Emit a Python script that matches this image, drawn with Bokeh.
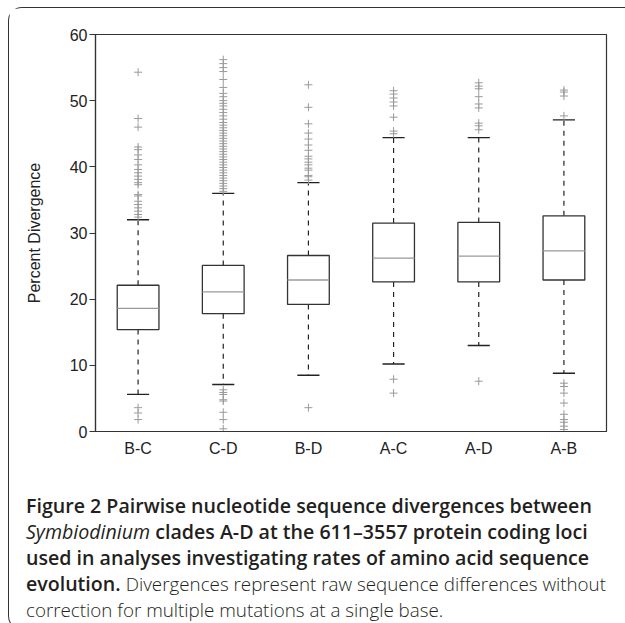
from bokeh.plotting import figure
from bokeh.models import FixedTicker, Div
from bokeh.layouts import column
from bokeh.embed import file_html
from bokeh.resources import INLINE

categories = ["B-C", "C-D", "B-D", "A-C", "A-D", "A-B"]
q1 = [15.4, 17.8, 19.2, 22.6, 22.6, 22.9]
median = [18.6, 21.1, 22.9, 26.2, 26.5, 27.3]
q3 = [22.1, 25.1, 26.6, 31.5, 31.6, 32.6]
whisker_low = [5.6, 7.1, 8.5, 10.2, 13.0, 8.8]
whisker_high = [32.0, 36.0, 37.6, 44.4, 44.4, 47.1]

outliers_bc = [54.3, 47.3, 46.0, 43.0, 42.6, 41.8, 41.1, 40.3, 39.6, 39.1, 38.6, 38.1,
               37.6, 37.3, 35.8, 35.6, 34.8, 34.3, 33.8, 33.3, 32.8, 32.4,
               3.6, 2.8, 1.8]
outliers_cd = [56.2, 55.6, 55.0, 54.4, 53.2, 52.0, 51.1, 50.6, 50.0, 49.6, 49.2, 48.7,
               48.2, 47.7, 47.2, 46.7, 46.3, 45.9, 45.5, 45.1, 44.7, 44.3, 43.9, 43.5,
               43.1, 42.7, 42.3, 41.9, 41.5, 41.1, 40.7, 40.3, 39.9, 39.5, 39.1, 38.7,
               38.3, 37.9, 37.5, 37.1, 36.7, 36.3,
               6.3, 5.9, 5.6, 4.8, 4.6, 2.9, 1.8, 0.4]
outliers_bd = [52.4, 49.0, 46.5, 45.1, 44.2, 43.3, 42.5, 41.6, 41.2, 40.7, 40.3, 39.8,
               39.5, 38.7, 38.5, 38.0, 3.6]
outliers_ac = [51.5, 51.0, 50.4, 49.8, 49.2, 47.5, 45.4, 45.0, 7.9, 5.8]
outliers_ad = [52.7, 52.2, 51.8, 50.6, 49.5, 48.9, 46.6, 46.2, 45.6, 7.6]
outliers_ab = [51.6, 51.3, 50.7, 47.7, 7.3, 6.8, 5.8, 4.3, 2.6, 1.8, 1.4, 0.8, 0.3]
outliers = [outliers_bc, outliers_cd, outliers_bd, outliers_ac, outliers_ad, outliers_ab]

y_ticks = [0, 10, 20, 30, 40, 50, 60]

p = figure(x_range=categories, y_range=(0, 60), width=615, height=480,
           output_backend="svg", toolbar_location=None,
           min_border_left=86, min_border_right=18, min_border_top=26, min_border_bottom=57)
p.grid.visible = False
p.outline_line_color = "#333333"
p.outline_line_width = 1.2
p.background_fill_color = "white"
p.border_fill_color = "white"

FONT = "Liberation Sans"
p.yaxis.ticker = FixedTicker(ticks=y_ticks)
p.yaxis.axis_label = "Percent Divergence"
p.yaxis.axis_label_text_font = FONT
p.yaxis.axis_label_text_font_style = "normal"
p.yaxis.axis_label_text_font_size = "16px"
p.yaxis.axis_label_text_color = "#222222"
p.yaxis.axis_label_standoff = 24
p.yaxis.major_label_text_font = FONT
p.yaxis.major_label_text_font_size = "16px"
p.yaxis.major_label_text_color = "#222222"
p.yaxis.major_tick_out = 6
p.yaxis.major_tick_in = 0
p.yaxis.minor_tick_line_color = None
p.yaxis.major_label_standoff = 2
p.axis.axis_line_color = "#333333"
p.axis.axis_line_width = 1.2
p.axis.major_tick_line_color = "#333333"

p.xaxis.major_tick_out = 0
p.xaxis.major_tick_in = 0
p.xaxis.major_label_text_font = FONT
p.xaxis.major_label_text_font_size = "16px"
p.xaxis.major_label_text_color = "#222222"
p.xaxis.major_label_standoff = 8

# whiskers
p.segment(x0=categories, y0=q3, x1=categories, y1=whisker_high,
          line_color="#222222", line_width=1.2, line_dash="5 5")
p.segment(x0=categories, y0=q1, x1=categories, y1=whisker_low,
          line_color="#222222", line_width=1.2, line_dash="5 5")
# caps
p.hbar(y=whisker_high, left=[(c, -0.13) for c in categories], right=[(c, 0.13) for c in categories],
       height=0.0, line_color="#222222", line_width=1.3, fill_color=None)
p.hbar(y=whisker_low, left=[(c, -0.13) for c in categories], right=[(c, 0.13) for c in categories],
       height=0.0, line_color="#222222", line_width=1.3, fill_color=None)
# boxes
p.vbar(x=categories, bottom=q1, top=q3, width=0.49, fill_color="white",
       line_color="#333333", line_width=1.3)
# medians
p.hbar(y=median, left=[(c, -0.245) for c in categories], right=[(c, 0.245) for c in categories],
       height=0.0, line_color="#999999", line_width=1.3, fill_color=None)

# outliers
ox = []
oy = []
for c, vals in zip(categories, outliers):
    for v in vals:
        ox.append(c)
        oy.append(v)
p.scatter(x=ox, y=oy, marker="cross", size=8, line_color="#9a9a9a", line_width=1.0)

caption = (
    '<div style="font-family: \'Open Sans\', sans-serif; font-size: 19.6px; line-height: 26px; '
    'color: #231f20; white-space: nowrap; padding-left: 12px; padding-top: 0px;">'
    '<span style="font-weight: 600;">Figure 2 Pairwise nucleotide sequence divergences between<br>'
    '<i style="font-weight: 400;">Symbiodinium</i> clades A-D at the 611&#8211;3557 protein coding loci<br>'
    'used in analyses investigating rates of amino acid sequence<br>'
    'evolution.</span> <span style="font-weight: 300; font-size: 18.8px;">Divergences represent raw sequence differences without<br>'
    'correction for multiple mutations at a single base.</span></div>'
)
cap = Div(text=caption, width=615, height=131)

layout = column(p, cap, spacing=0,
                styles={"margin-left": "8px",
                        "margin-top": "7px",
                        "border-top": "1.5px solid #333333",
                        "border-left": "1.5px solid #333333",
                        "border-bottom": "1.5px solid #333333",
                        "border-top-left-radius": "14px",
                        "border-bottom-left-radius": "14px",
                        "background-color": "white"})

open("out.html", "w").write(file_html(layout, INLINE))
